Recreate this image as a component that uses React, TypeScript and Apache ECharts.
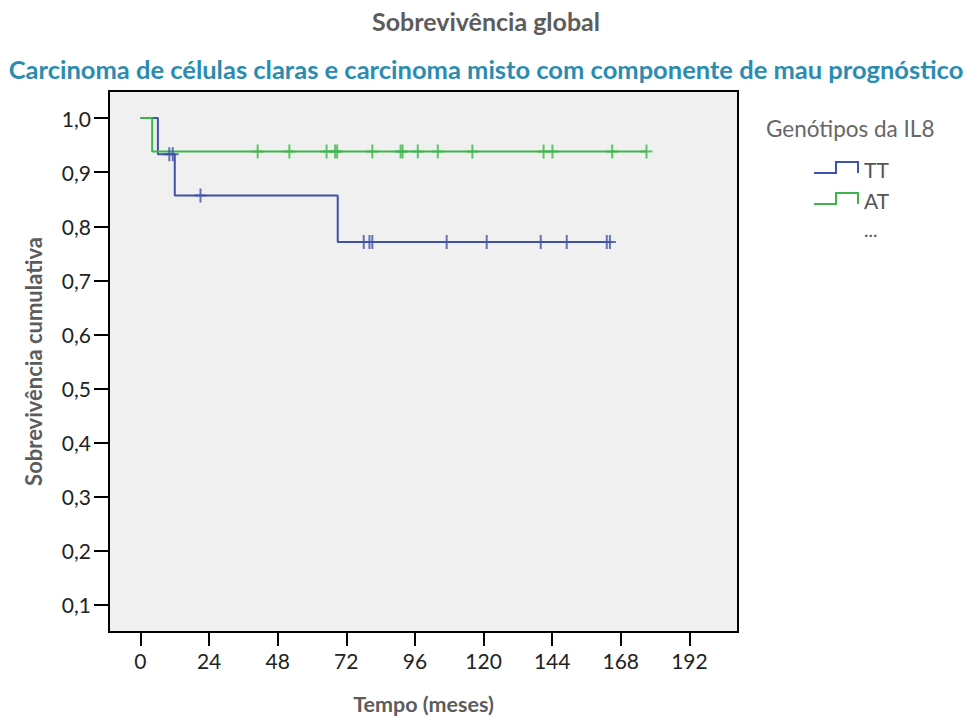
import React, { useEffect, useRef } from "react";
import * as echarts from "echarts";

const titleText = "Sobrevivência global";
const subtitleText = "Carcinoma de células claras e carcinoma misto com componente de mau prognóstico";
const xAxisName = "Tempo (meses)";
const yAxisName = "Sobrevivência cumulativa";
const legendTitle = "Genótipos da IL8";
const groupNames = ["TT", "AT"];

const xTicks = [0, 24, 48, 72, 96, 120, 144, 168, 192];
const yTicks = [0.1, 0.2, 0.3, 0.4, 0.5, 0.6, 0.7, 0.8, 0.9, 1.0];

// Kaplan-Meier step points [time, survival]
const ttSteps: [number, number][] = [
  [0, 1.0],
  [6.1, 0.933],
  [12.0, 0.857],
  [69.0, 0.771],
  [164.2, 0.771],
];
const ttCensored: number[] = [10.1, 11.3, 21.0, 78.1, 80.1, 81.1, 107.1, 121.1, 140.0, 149.1, 163.1, 164.2];
const ttCensoredLevels: number[] = [0.933, 0.933, 0.857, 0.771, 0.771, 0.771, 0.771, 0.771, 0.771, 0.771, 0.771, 0.771];

const atSteps: [number, number][] = [
  [0, 1.0],
  [4.1, 0.938],
  [177.0, 0.938],
];
const atCensored: number[] = [41.0, 52.1, 65.1, 68.1, 68.8, 81.1, 91.0, 91.7, 97.0, 104.0, 116.1, 141.0, 144.1, 165.0, 177.0];
const atCensoredLevels: number[] = [0.938, 0.938, 0.938, 0.938, 0.938, 0.938, 0.938, 0.938, 0.938, 0.938, 0.938, 0.938, 0.938, 0.938, 0.938];

const BLUE = "#3f52a8";
const GREEN = "#3cb54b";
const FONT = "Lato, 'Open Sans', sans-serif";
const PLUS = "path://M0,6 L5,6 L5,0 L7,0 L7,6 L12,6 L12,8 L7,8 L7,14 L5,14 L5,8 L0,8 Z";

export default function App() {
  const ref = useRef<HTMLDivElement>(null);
  useEffect(() => {
    if (!ref.current) return;
    const chart = echarts.init(ref.current, null, { renderer: "svg" });
    const option: any = {
      animation: false,
      backgroundColor: "#ffffff",
      title: [
        {
          text: titleText,
          left: "center",
          top: 3,
          textStyle: { fontFamily: FONT, fontSize: 25, fontWeight: "bold", color: "#5c5c5c" },
        },
        {
          text: subtitleText,
          left: "center",
          top: 51,
          textStyle: { fontFamily: FONT, fontSize: 25.5, fontWeight: "bold", color: "#2a8cb0" },
        },
      ],
      grid: {
        left: 109,
        top: 91,
        right: 234,
        bottom: 85,
        containLabel: false,
        outerBoundsMode: "none",
        show: true,
        backgroundColor: "#f0f0f0",
        borderColor: "#000",
        borderWidth: 2,
      },
      xAxis: {
        type: "value",
        min: -11,
        max: 209,
        name: xAxisName,
        nameLocation: "middle",
        nameGap: 61,
        nameTextStyle: { fontFamily: FONT, fontSize: 21.5, fontWeight: "bold", color: "#5c5c5c" },
        axisLine: { show: false, onZero: false },
        splitLine: { show: false },
        axisTick: { show: true, length: 14, lineStyle: { color: "#000", width: 2 }, customValues: xTicks },
        axisLabel: {
          customValues: xTicks,
          fontFamily: FONT,
          fontSize: 21,
          color: "#222",
          margin: 18,
        },
      },
      yAxis: {
        type: "value",
        min: 0.05,
        max: 1.05,
        name: yAxisName,
        nameLocation: "middle",
        nameRotate: 90,
        nameGap: 65,
        nameTextStyle: { fontFamily: FONT, fontSize: 22, fontWeight: "bold", color: "#5c5c5c" },
        axisLine: { show: false, onZero: false },
        splitLine: { show: false },
        axisTick: { show: true, length: 15, lineStyle: { color: "#000", width: 2 }, customValues: yTicks },
        axisLabel: {
          customValues: yTicks,
          fontFamily: FONT,
          fontSize: 21,
          color: "#222",
          margin: 18,
          formatter: (v: number) => v.toFixed(1).replace(".", ","),
        },
      },
      series: [
        {
          name: groupNames[0],
          type: "line",
          step: "end",
          data: ttSteps,
          showSymbol: false,
          lineStyle: { color: BLUE, width: 2 },
          z: 2,
        },
        {
          name: groupNames[1],
          type: "line",
          step: "end",
          data: atSteps,
          showSymbol: false,
          lineStyle: { color: GREEN, width: 2 },
          z: 3,
        },
        {
          name: groupNames[0] + " censurado",
          type: "scatter",
          data: ttCensored.map((t, i) => [t, ttCensoredLevels[i]]),
          symbol: PLUS,
          symbolSize: [12, 14],
          itemStyle: { color: BLUE },
          z: 4,
        },
        {
          name: groupNames[1] + " censurado",
          type: "scatter",
          data: atCensored.map((t, i) => [t, atCensoredLevels[i]]),
          symbol: PLUS,
          symbolSize: [12, 14],
          itemStyle: { color: GREEN },
          z: 4,
        },
      ],
      graphic: [
        {
          type: "text",
          x: 766,
          y: 128,
          style: { text: legendTitle, fontFamily: FONT, fontSize: 22.5, fill: "#666", verticalAlign: "middle" },
        },
        {
          type: "polyline",
          shape: { points: [[814, 173], [836, 173], [836, 162], [858, 162], [858, 173]] },
          style: { stroke: BLUE, lineWidth: 2, fill: null },
        },
        {
          type: "text",
          x: 864,
          y: 169,
          style: { text: groupNames[0], fontFamily: FONT, fontSize: 21, fill: "#555", verticalAlign: "middle" },
        },
        {
          type: "polyline",
          shape: { points: [[814, 204], [836, 204], [836, 193], [858, 193], [858, 204]] },
          style: { stroke: GREEN, lineWidth: 2, fill: null },
        },
        {
          type: "text",
          x: 864,
          y: 200,
          style: { text: groupNames[1], fontFamily: FONT, fontSize: 21, fill: "#555", verticalAlign: "middle" },
        },
        {
          type: "text",
          x: 864,
          y: 229,
          style: { text: "...", fontFamily: FONT, fontSize: 19, fill: "#555", verticalAlign: "middle" },
        },
      ],
    };
    chart.setOption(option);
    return () => chart.dispose();
  }, []);
  return <div ref={ref} style={{ position: "fixed", left: 0, top: 0, width: 972, height: 717 }} />;
}
